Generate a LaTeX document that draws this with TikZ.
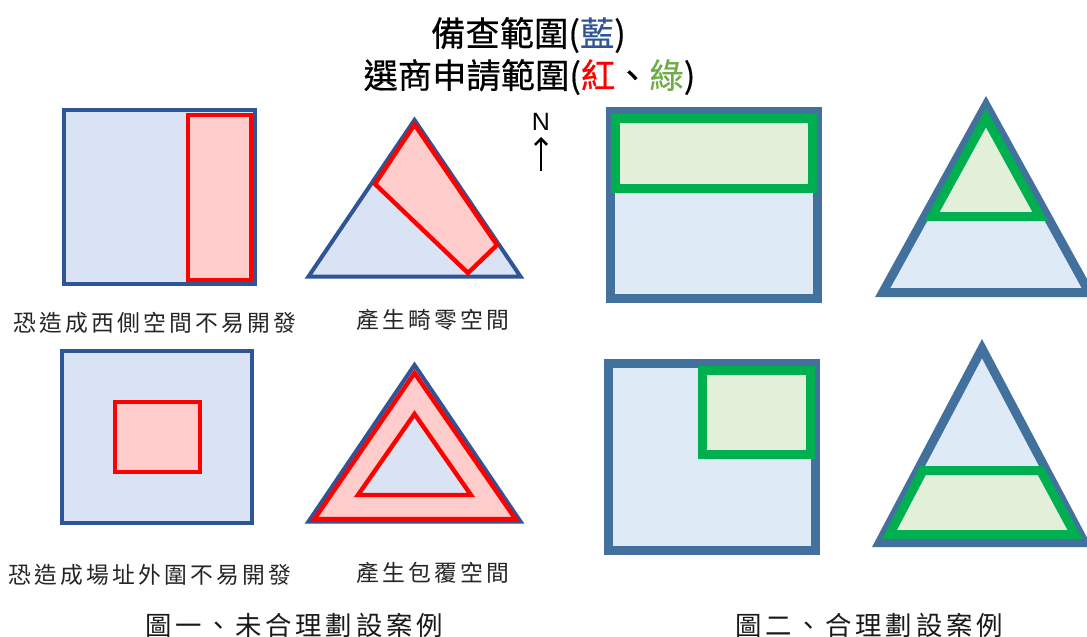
\documentclass[tikz,border=0pt]{standalone}
\usetikzlibrary{arrows.meta}
\usepackage{fontspec}
\setmainfont{Liberation Sans}
\newfontfamily\cjkfont{Noto Sans CJK TC}[FakeBold=0.5]
\newfontfamily\cjkspaced{Noto Sans CJK TC}[LetterSpace=14]
\definecolor{bordL}{HTML}{2F5597}
\definecolor{fillL}{HTML}{DAE3F3}
\definecolor{pinkF}{HTML}{FFCCCC}
\definecolor{bordR}{HTML}{41719C}
\definecolor{fillR}{HTML}{DEEAF6}
\definecolor{greenB}{HTML}{00B050}
\definecolor{greenF}{HTML}{E2F0D9}
\definecolor{titleB}{HTML}{2F5597}
\definecolor{titleG}{HTML}{70AD47}
\tikzset{
  x=1pt,y=-1pt,
  siteL/.style={draw=bordL,fill=fillL,line width=4pt,miter limit=20},
  reqL/.style={draw=red,fill=pinkF,line width=4.4pt,miter limit=20},
  siteR/.style={draw=bordR,fill=fillR,line width=9pt,miter limit=20},
  reqR/.style={draw=greenB,fill=greenF,line width=9pt,miter limit=20},
  titletext/.style={inner sep=0pt,font=\fontsize{34.3}{38}\selectfont\cjkfont},
  labeltext/.style={inner sep=0pt,font=\fontsize{22.8}{26}\selectfont\cjkspaced,text=black!85},
  captiontext/.style={inner sep=0pt,font=\fontsize{26.4}{30}\selectfont\cjkspaced,text=black!90}
}
\begin{document}
\begin{tikzpicture}
\useasboundingbox (0,0) rectangle (1087,637);
\clip (0,0) rectangle (1087,637);
% titles
\node[titletext] (t1) at (528.5,35) {備查範圍({\color{titleB}藍})};
\node[titletext] (t2) at (529.5,77) {選商申請範圍({\color{red}紅}、{\color{titleG}綠})};
% north arrow
\node[inner sep=0pt,font=\fontsize{25}{27}\selectfont] (north) at (541,122) {N};
\coordinate (nb) at (541,171);
\coordinate (nt) at (541,137);
\draw[line width=2.6pt,-{Straight Barb[length=6pt,width=12pt]}] (nb) -- (nt);
% left column, row 1
\draw[siteL] (64,110) rectangle (255,284);
\draw[reqL] (188,115) rectangle (251,280);
\draw[siteL] (414.5,120) -- (520.5,276.5) -- (308.5,276.5) -- cycle;
\draw[reqL] (414.5,124.5) -- (497,245) -- (468,273) -- (375,184) -- cycle;
\node[labeltext] (l1) at (155,323) {恐造成西側空間不易開發};
\node[labeltext] (l2) at (433,320) {產生畸零空間};
% left column, row 2
\draw[siteL] (62,351) rectangle (252,523);
\draw[reqL] (115,402) rectangle (200,472);
\draw[siteL] (414.5,365) -- (520.5,521.5) -- (308.5,521.5) -- cycle;
\draw[reqL,even odd rule] (414.5,373) -- (515.5,519) -- (314.5,519) -- cycle
  (414.5,414) -- (471,495) -- (358,495) -- cycle;
\node[labeltext] (l3) at (150,575) {恐造成場址外圍不易開發};
\node[labeltext] (l4) at (433,573) {產生包覆空間};
\node[captiontext] (c1) at (294,625) {圖一、未合理劃設案例};
% right column, row 1
\draw[siteR] (610.5,111.5) rectangle (817.5,298.5);
\draw[reqR] (615.5,118.5) rectangle (812.5,188);
\draw[siteR] (986,105.3) -- (1089.3,292.5) -- (882.7,292.5) -- cycle;
\draw[reqR] (986,118) -- (1040,216.5) -- (932,216.5) -- cycle;
% right column, row 2
\draw[siteR] (608.5,363.5) rectangle (815.5,550.5);
\draw[reqR] (702.5,370.5) rectangle (810.5,454.5);
\draw[siteR] (982,348.6) -- (1084.5,542.5) -- (879.5,542.5) -- cycle;
\draw[reqR] (923,470.5) -- (1040.5,470.5) -- (1075,534.5) -- (889.5,534.5) -- cycle;
\node[captiontext] (c2) at (869,625) {圖二、合理劃設案例};
\end{tikzpicture}
\end{document}
